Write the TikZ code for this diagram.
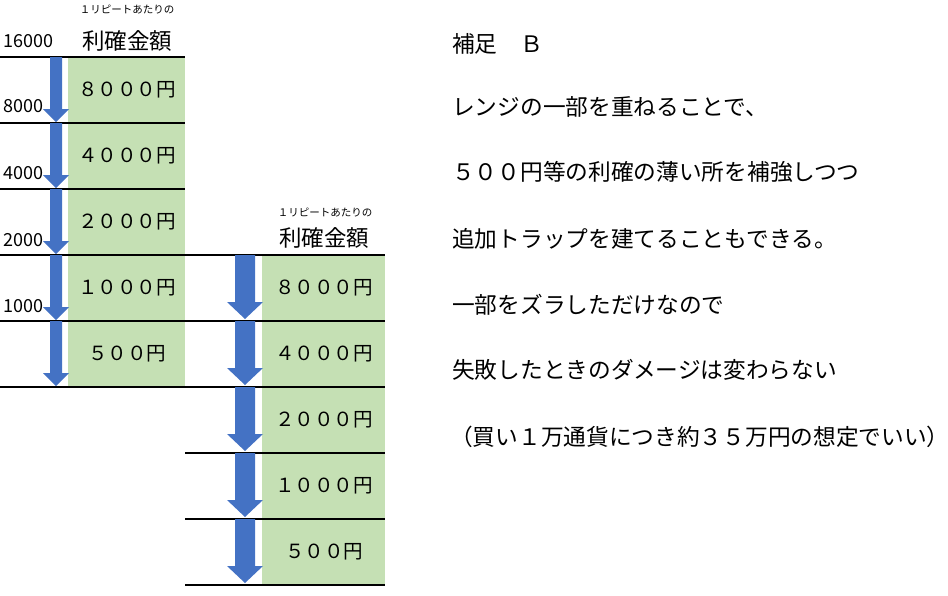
\documentclass[tikz,border=0pt]{standalone}
\usepackage{fontspec}
\setmainfont{Noto Sans CJK JP}
\newcommand\fsz[1]{\fontsize{#1}{#1}\selectfont}
\definecolor{fillgreen}{HTML}{C5E0B4}
\definecolor{arrowblue}{HTML}{4472C4}
% cx, y0, y1, shaft half width, head half width, head length
\newcommand\blkarrow[6]{%
  \fill[arrowblue] ({#1-#4},{#2}) -- ({#1+#4},{#2}) -- ({#1+#4},{#3-#6}) -- ({#1+#5},{#3-#6})
    -- ({#1},{#3}) -- ({#1-#5},{#3-#6}) -- ({#1-#4},{#3-#6}) -- cycle;}
\begin{document}
\begin{tikzpicture}[x=1pt,y=-1pt,
  gridline/.style={line width=1.2pt, black},
  val/.style={inner sep=0pt, font=\fsz{19.5}},
  hdr/.style={inner sep=0pt, font=\fsz{22.5}},
  sub/.style={inner sep=0pt, font=\fsz{10.5}},
  lvl/.style={inner sep=0pt, anchor=west, font=\fsz{18}},
  note/.style={inner sep=0pt, anchor=west, font=\fsz{22.7}}]
\useasboundingbox (0,0) rectangle (948,595);
% green value columns
\fill[fillgreen] (68,57) rectangle (185,387);
\fill[fillgreen] (262,255) rectangle (385,585);
% row lines
\foreach \y in {57,123,189,255,321,387} \draw[gridline] (0,\y) -- (185,\y);
\foreach \y in {255,321,387,453,519,585} \draw[gridline] (185,\y) -- (385,\y);
% block arrows
\foreach \k in {0,...,4} {\blkarrow{56}{57+66*\k}{122+66*\k}{6}{13}{13}}
\foreach \k in {0,...,4} {\blkarrow{245}{255+66*\k}{319+66*\k}{10}{18}{17}}
% left table
\node[sub] (subL) at (127,10) {１リピートあたりの};
\node[hdr] (hdrL) at (127,41) {利確金額};
\node[val] (l1) at (127,90) {８０００円};
\node[val] (l2) at (127,156) {４０００円};
\node[val] (l3) at (127,222) {２０００円};
\node[val] (l4) at (127,288) {１０００円};
\node[val] (l5) at (127,354) {５００円};
\node[lvl] (n16000) at (3,41) {16000};
\node[lvl] (n8000) at (3,106) {8000};
\node[lvl] (n4000) at (3,173) {4000};
\node[lvl] (n2000) at (3,240) {2000};
\node[lvl] (n1000) at (3,306) {1000};
% right table
\node[sub] (subR) at (325,213) {１リピートあたりの};
\node[hdr] (hdrR) at (324,238) {利確金額};
\node[val] (r1) at (324,288) {８０００円};
\node[val] (r2) at (324,354) {４０００円};
\node[val] (r3) at (324,420) {２０００円};
\node[val] (r4) at (324,486) {１０００円};
\node[val] (r5) at (324,552) {５００円};
% notes
\node[note] (t1) at (452,44) {補足　Ｂ};
\node[note] (t2) at (452,107) {レンジの一部を重ねることで、};
\node[note] (t3) at (452,172) {５００円等の利確の薄い所を補強しつつ};
\node[note] (t4) at (452,239) {追加トラップを建てることもできる。};
\node[note] (t5) at (452,305) {一部をズラしただけなので};
\node[note] (t6) at (452,370) {失敗したときのダメージは変わらない};
\node[note] (t7) at (450,437) {（買い１万通貨につき約３５万円の想定でいい）};
\end{tikzpicture}
\end{document}
